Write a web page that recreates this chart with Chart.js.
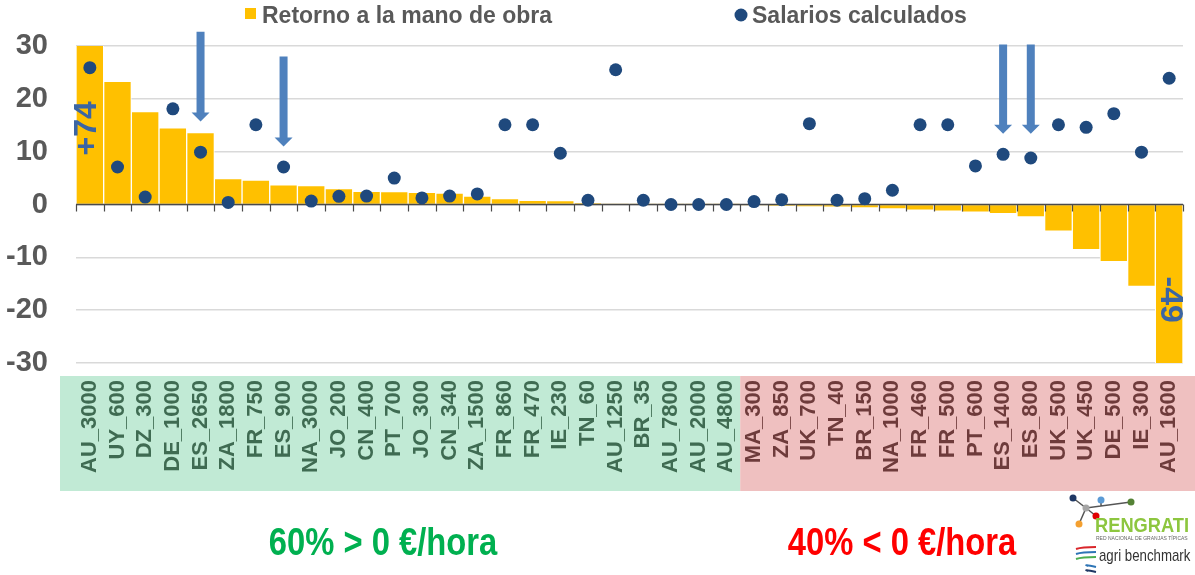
<!DOCTYPE html>
<html>
<head>
<meta charset="utf-8">
<script src="https://cdn.jsdelivr.net/npm/chart.js@4.4.1/dist/chart.umd.min.js"></script>
<style>
  html, body { margin: 0; padding: 0; background: #ffffff; }
  #caja { width: 1195px; height: 575px; position: relative; }
</style>
</head>
<body>
<div id="caja"><canvas id="grafico"></canvas></div>
<script>
// granjas (eje x)
const categorias = ['AU_3000', 'UY_600', 'DZ_300', 'DE_1000', 'ES_2650', 'ZA_1800', 'FR_750', 'ES_900',
    'NA_3000', 'JO_200', 'CN_400', 'PT_700', 'JO_300', 'CN_340', 'ZA_1500', 'FR_860', 'FR_470', 'IE_230',
    'TN_60', 'AU_1250', 'BR_35', 'AU_7800', 'AU_2000', 'AU_4800', 'MA_300', 'ZA_850', 'UK_700', 'TN_40',
    'BR_150', 'NA_1000', 'FR_460', 'FR_500', 'PT_600', 'ES_1400', 'ES_800', 'UK_500', 'UK_450', 'DE_500',
    'IE_300', 'AU_1600'];

// €/hora
const retorno = [74, 23.3, 17.6, 14.5, 13.6, 4.9, 4.6, 3.7, 3.6, 3.0, 2.5, 2.45, 2.3, 2.15, 1.6, 1.1, 0.8, 0.75,
    0.25, 0.1, 0.05, 0.03, 0.02, 0.01, -0.12, -0.25, -0.4, -0.5, -0.63, -0.82, -1.05, -1.26, -1.45, -1.75,
    -2.35, -5.05, -8.55, -10.8, -15.5, -49];

const salarios = [25.9, 7.1, 1.4, 18.1, 9.9, 0.4, 15.1, 7.1, 0.65, 1.55, 1.6, 5.0, 1.25, 1.6, 2.0, 15.1, 15.1, 9.7,
    0.8, 25.5, 0.8, 0.0, 0.0, 0.0, 0.55, 0.9, 15.3, 0.8, 1.1, 2.7, 15.1, 15.1, 7.3, 9.5, 8.8, 15.1, 14.6, 17.2,
    9.9, 23.9];

const yTicks = [30, 20, 10, 0, -10, -20, -30];
const series = ['Retorno a la mano de obra', 'Salarios calculados'];
const resumen = ['60% > 0 €/hora', '40% < 0 €/hora'];
const nPositivos = 24; // granjas en la zona verde

let amarillo = '#FFC000'
let azulPunto = '#1F497D'
let azulFlecha = '#4F81BD'
let grisTexto = '#595959'
let fuente = "'Liberation Sans', Arial, sans-serif"

// texto estrecho (tipo Arial Narrow) escalando en x
function textoEstrecho(c, txt, x, y, font, color, sx, align) {
    c.save();
    c.font = font + ' ' + fuente;
    c.fillStyle = color;
    c.textBaseline = 'alphabetic';
    let w = c.measureText(txt).width * sx;
    let x0 = align === 'center' ? x - w / 2 : x;
    c.translate(x0, y);
    c.scale(sx, 1);
    c.textAlign = 'left';
    c.fillText(txt, 0, 0);
    c.restore();
}

function flecha(c, x, yTop, yTip) {
    let shaft = 8, head = 18, hh = 9;
    c.save();
    c.fillStyle = azulFlecha;
    c.beginPath();
    c.moveTo(x - shaft / 2, yTop);
    c.lineTo(x + shaft / 2, yTop);
    c.lineTo(x + shaft / 2, yTip - hh);
    c.lineTo(x + head / 2, yTip - hh);
    c.lineTo(x, yTip);
    c.lineTo(x - head / 2, yTip - hh);
    c.lineTo(x - shaft / 2, yTip - hh);
    c.closePath();
    c.fill();
    c.restore();
}

const extras = {
    id: 'extras',
    beforeDraw(chart) {
        const c = chart.ctx, xs = chart.scales.x;
        let corte = (xs.getPixelForValue(nPositivos - 1) + xs.getPixelForValue(nPositivos)) / 2;
        c.save();
        c.fillStyle = '#C1EAD5';
        c.fillRect(60, 376, corte - 60, 115);
        c.fillStyle = '#EFC0C0';
        c.fillRect(corte, 376, chart.width - corte, 115);
        c.restore();
    },
    afterDatasetDraw(chart, args) {
        // eje del cero con marcas, encima de las barras y debajo de los puntos
        if (args.index !== 1) return;
        const c = chart.ctx, xs = chart.scales.x, ys = chart.scales.y;
        let y0 = ys.getPixelForValue(0);
        let paso = xs.getPixelForValue(1) - xs.getPixelForValue(0);
        c.save();
        c.strokeStyle = '#4A4A4A';
        c.lineWidth = 1.5;
        c.beginPath();
        c.moveTo(chart.chartArea.left, y0);
        c.lineTo(chart.chartArea.right, y0);
        c.stroke();
        c.lineWidth = 1.2;
        c.beginPath();
        for (let i = 0; i <= categorias.length; i++) {
            let x = Math.round(xs.getPixelForValue(0) - paso / 2 + i * paso) + 0.5;
            c.moveTo(x, y0);
            c.lineTo(x, y0 + 7);
        }
        c.stroke();
        c.restore();
    },
    afterDraw(chart) {
        const c = chart.ctx, xs = chart.scales.x, ys = chart.scales.y;

        // flechas sobre las granjas españolas
        const tramos = { ES_2650: [32.7, 15.7], ES_900: [28, 11], ES_1400: [30.3, 13.4], ES_800: [30.3, 13.4] };
        categorias.forEach(function (cat, i) {
            if (!tramos[cat]) return;
            flecha(c, xs.getPixelForValue(i), ys.getPixelForValue(tramos[cat][0]), ys.getPixelForValue(tramos[cat][1]));
        });

        // valores fuera de escala
        c.save();
        c.font = 'bold 32px ' + fuente;
        c.fillStyle = '#3B65A3';
        c.textAlign = 'center';
        c.textBaseline = 'middle';
        c.save();
        c.translate(xs.getPixelForValue(0) - 3, ys.getPixelForValue(14.4));
        c.rotate(-Math.PI / 2);
        c.fillText('+' + retorno[0], 0, 0);
        c.restore();
        let ult = retorno.length - 1;
        c.save();
        c.translate(xs.getPixelForValue(ult) + 1, ys.getPixelForValue(-18));
        c.rotate(Math.PI / 2);
        c.fillText(String(retorno[ult]), 0, 0);
        c.restore();
        c.restore();

        // leyenda
        c.save();
        c.fillStyle = amarillo;
        c.fillRect(245, 8, 11, 11);
        c.fillStyle = azulPunto;
        c.beginPath();
        c.arc(741, 15, 6.5, 0, Math.PI * 2);
        c.fill();
        c.font = 'bold 23px ' + fuente;
        c.fillStyle = grisTexto;
        c.textBaseline = 'alphabetic';
        c.fillText(series[0], 262, 23);
        c.fillText(series[1], 752, 23);
        c.restore();

        // resumen
        textoEstrecho(c, resumen[0], 383, 555, 'bold 39px', '#00B050', 0.84, 'center');
        textoEstrecho(c, resumen[1], 902, 555, 'bold 39px', '#FF0000', 0.84, 'center');

        // logos
        c.save();
        c.strokeStyle = '#555555';
        c.lineWidth = 1.5;
        c.beginPath();
        c.moveTo(1073, 498); c.lineTo(1086, 508);
        c.lineTo(1131, 502);
        c.moveTo(1101, 500); c.lineTo(1101, 506);
        c.moveTo(1086, 508); c.lineTo(1079, 524);
        c.moveTo(1086, 508); c.lineTo(1096, 516);
        c.stroke();
        const nodos = [[1073, 498, '#1F3864'], [1101, 500, '#5B9BD5'], [1131, 502, '#548235'],
            [1086, 508, '#A6A6A6'], [1096, 516, '#E00000'], [1079, 524, '#F4A030']];
        nodos.forEach(function (n) {
            c.fillStyle = n[2];
            c.beginPath();
            c.arc(n[0], n[1], 3.5, 0, Math.PI * 2);
            c.fill();
        });
        c.restore();
        textoEstrecho(c, 'RENGRATI', 1095, 532, 'bold 21px', '#8DC63F', 0.87, 'left');
        c.save();
        c.font = '5px ' + fuente;
        c.fillStyle = '#666666';
        c.fillText('RED NACIONAL DE GRANJAS TÍPICAS', 1096, 540);
        c.restore();
        c.save();
        c.lineWidth = 2;
        const rayas = [['#D9262B', 549], ['#2E75B6', 554], ['#4CAF50', 559], ['#2E75B6', 566], ['#1F3864', 571]];
        rayas.forEach(function (r, k) {
            c.strokeStyle = r[0];
            c.beginPath();
            c.moveTo(1096 - (k < 3 ? 20 : 8), r[1]);
            c.quadraticCurveTo(1082, r[1] - 2, 1096, r[1] - (k < 3 ? 2 : -1));
            c.stroke();
        });
        c.restore();
        textoEstrecho(c, 'agri benchmark', 1099, 561, '17px', '#333333', 0.78, 'left');
    }
};

const ctx = document.getElementById('grafico').getContext('2d');
let miGrafico = new Chart(ctx, {
    type: 'bar',
    data: {
        labels: categorias,
        datasets: [{
            type: 'line',
            label: series[1],
            data: salarios,
            showLine: false,
            pointRadius: 6.5,
            pointHoverRadius: 6.5,
            pointBackgroundColor: azulPunto,
            pointBorderWidth: 0,
            order: 1
        }, {
            type: 'bar',
            label: series[0],
            data: retorno,
            backgroundColor: amarillo,
            borderColor: '#FFFFFF',
            borderWidth: 1,
            barPercentage: 1,
            categoryPercentage: 1,
            order: 2
        }]
    },
    options: {
        responsive: true,
        maintainAspectRatio: false,
        animation: false,
        devicePixelRatio: 1,
        layout: { padding: { top: 46, right: 12, left: 0, bottom: 0 } },
        plugins: {
            legend: { display: false },
            tooltip: { enabled: false }
        },
        scales: {
            x: {
                position: 'bottom',
                grid: { display: false, drawTicks: false },
                border: { display: false },
                afterFit: function (s) {
                    s.height = 212;
                    s.paddingLeft = 0;
                    s.paddingRight = 0;
                },
                ticks: {
                    autoSkip: false,
                    minRotation: 90,
                    maxRotation: 90,
                    padding: 17,
                    font: { family: fuente, size: 22, weight: 'bold' },
                    color: function (c) { return c.index < nPositivos ? '#3F6B52' : '#6E3B3B'; }
                }
            },
            y: {
                min: -30,
                max: 30,
                afterBuildTicks: function (s) { s.ticks = yTicks.map(function (v) { return { value: v }; }); },
                afterFit: function (s) { s.width = 76; },
                grid: { color: '#D9D9D9', lineWidth: 1.5, drawTicks: false },
                border: { display: false },
                ticks: {
                    padding: 28,
                    font: { family: fuente, size: 29, weight: 'bold' },
                    color: grisTexto
                }
            }
        }
    },
    plugins: [extras]
});
</script>
</body>
</html>
